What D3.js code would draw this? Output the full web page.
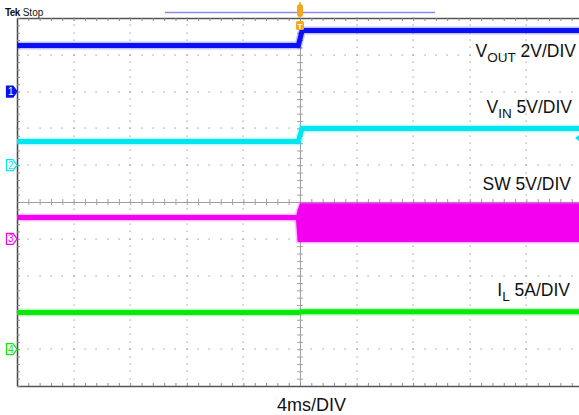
<!DOCTYPE html>
<html><head><meta charset="utf-8">
<script src="https://cdn.jsdelivr.net/npm/d3@7"></script>
<style>html,body{margin:0;padding:0;background:#fff;overflow:hidden}svg{display:block}</style>
</head><body>
<svg id="c" width="579" height="415"></svg>
<script>
// ---- data (time in ms, values in physical units) ----
const channelNames = ["VOUT", "VIN", "SW", "IL"];
const unitsPerDiv = [2, 5, 5, 5];          // V/div, V/div, V/div, A/div
const groundDiv = [3, 1, -1, -4];           // channel ground marker position (divisions)
const channelColors = ["#0a10f2", "#00e6f0", "#f400f0", "#0ae80a"];

const traceTime = [-20, -0.12, 0.15, 20];
const voutValues = [2.5, 2.5, 3.32, 3.32];
const vinValues = [3.22, 3.22, 5.0, 5.0];
const ilValues = [5.0, 5.0, 5.08, 5.08];

const swTime = [-20, -0.12, 0.0, 0.12, 20];
const swHigh = [2.9, 2.9, 3.8, 4.5, 4.5];
const swLow = [2.9, 2.9, -0.1, -0.1, -0.1];

const labelMain = ["V", "V", "SW 5V/DIV", "I"];
const labelSub = ["OUT", "IN", "", "L"];
const labelRest = [" 2V/DIV", " 5V/DIV", "", " 5A/DIV"];
const timeLabel = "4ms/DIV";
const timeDomain = [-20, 20];
const divDomain = [-5, 5];

// ---- layout ----
const svg = d3.select("#c");
const L = 17, R = 583, T = 18, B = 386;
const x = d3.scaleLinear().domain(timeDomain).range([L, R]);
const yDiv = d3.scaleLinear().domain(divDomain).range([B, T]);
const chY = i => v => yDiv(v / unitsPerDiv[i] + groundDiv[i]);

// graticule dots
const g = svg.append("g");
const majorX = d3.range(-16, 20, 4);
const majorY = d3.range(-4, 5, 1).filter(d => d !== 0);
const minorX = d3.range(-20, 20.001, 0.8);
const minorY = d3.range(-5, 5.001, 0.2);
majorX.filter(d => d !== 0).forEach(t => {
  minorY.forEach(d => g.append("rect").attr("x", Math.round(x(t)) - 0.5).attr("y", Math.round(yDiv(d)) - 0.5)
    .attr("width", 1.2).attr("height", 1.2).attr("fill", "#999"));
});
majorY.forEach(d => {
  minorX.forEach(t => g.append("rect").attr("x", Math.round(x(t)) - 0.5).attr("y", Math.round(yDiv(d)) - 0.5)
    .attr("width", 1.2).attr("height", 1.2).attr("fill", "#999"));
});

// center lines with ticks
const cx1 = svg.append("g").attr("transform", `translate(0,${yDiv(0)})`)
  .call(d3.axisBottom(x).tickValues(minorX).tickSize(3).tickSizeOuter(0).tickFormat(""));
const cx2 = svg.append("g").attr("transform", `translate(0,${yDiv(0)})`)
  .call(d3.axisTop(x).tickValues(minorX).tickSize(3).tickSizeOuter(0).tickFormat(""));
const cy1 = svg.append("g").attr("transform", `translate(${x(0)},0)`)
  .call(d3.axisLeft(yDiv).tickValues(minorY).tickSize(3).tickSizeOuter(0).tickFormat(""));
const cy2 = svg.append("g").attr("transform", `translate(${x(0)},0)`)
  .call(d3.axisRight(yDiv).tickValues(minorY).tickSize(3).tickSizeOuter(0).tickFormat(""));
[cx1, cx2, cy1, cy2].forEach(a => { a.selectAll("path,line").attr("stroke", "#a0a0a0"); });

// border axes
const bTop = svg.append("g").attr("transform", `translate(0,${T})`)
  .call(d3.axisBottom(x).tickValues(minorX).tickSize(3).tickSizeOuter(0).tickFormat(""));
const bBot = svg.append("g").attr("transform", `translate(0,${B})`)
  .call(d3.axisTop(x).tickValues(minorX).tickSize(3).tickSizeOuter(0).tickFormat(""));
const bLeft = svg.append("g").attr("transform", `translate(${L},0)`)
  .call(d3.axisRight(yDiv).tickValues(minorY).tickSize(3).tickSizeOuter(0).tickFormat(""));
[bTop, bBot].forEach(a => { a.select("path").attr("stroke", "#555").attr("stroke-width", 1.3); a.selectAll("line").attr("stroke", "#888"); });
bLeft.select("path").attr("stroke", "#444").attr("stroke-width", 1.5);
bLeft.selectAll("line").attr("stroke", "#888");

// traces
const traces = [voutValues, vinValues, null, ilValues];
traces.forEach((vals, i) => {
  if (!vals) return;
  const pts = traceTime.map((t, k) => [t, vals[k]]);
  const line = d3.line().x(d => x(d[0])).y(d => chY(i)(d[1]));
  svg.append("path").attr("d", line(pts)).attr("fill", "none")
    .attr("stroke", channelColors[i]).attr("stroke-width", 8).attr("stroke-opacity", 0.25);
  svg.append("path").attr("d", line(pts)).attr("fill", "none")
    .attr("stroke", channelColors[i]).attr("stroke-width", 5);
});
// SW band
const swPts = swTime.map((t, k) => ({t, hi: swHigh[k], lo: swLow[k]}));
const swArea = d3.area().x(d => x(d.t)).y0(d => chY(2)(d.lo)).y1(d => chY(2)(d.hi));
svg.append("path").attr("d", swArea(swPts)).attr("fill", channelColors[2])
  .attr("stroke", channelColors[2]).attr("stroke-width", 8).attr("stroke-opacity", 0.25);
svg.append("path").attr("d", swArea(swPts)).attr("fill", channelColors[2])
  .attr("stroke", channelColors[2]).attr("stroke-width", 5);

// channel ground markers
groundDiv.forEach((gd, i) => {
  const yy = yDiv(gd);
  const filled = i === 0;
  const shape = `M6.5,${yy - 5.5} L13,${yy - 5.5} L17,${yy} L13,${yy + 5.5} L6.5,${yy + 5.5} Z`;
  svg.append("path").attr("d", shape)
    .attr("fill", filled ? channelColors[i] : "#fff")
    .attr("stroke", channelColors[i]).attr("stroke-width", 1.2);
  svg.append("text").attr("x", 10.8).attr("y", yy + 3.6).attr("text-anchor", "middle")
    .attr("font-family", "Liberation Sans, Arial, sans-serif").attr("font-size", 10)
    .attr("fill", filled ? "#fff" : channelColors[i]).text(i + 1);
});

// trigger level marker on right (VIN)
{
  const yy = chY(1)(vinValues[2]) + 9.5;
  svg.append("path").attr("d", `M575,${yy} L579,${yy - 3} L579,${yy + 3} Z`).attr("fill", channelColors[1]);
}

// header
const hdr = svg.append("text").attr("x", 5).attr("y", 15.5)
  .attr("font-family", "Liberation Sans, Arial, sans-serif").attr("font-size", 10).attr("fill", "#111");
hdr.append("tspan").attr("font-weight", "bold").attr("letter-spacing", -0.6).text("Tek");
hdr.append("tspan").attr("dx", 3).text("Stop");
svg.append("line").attr("x1", 165).attr("x2", 435).attr("y1", 12.5).attr("y2", 12.5)
  .attr("stroke", "#8a8ae6").attr("stroke-width", 1.5);
// trigger position markers
svg.append("rect").attr("x", x(0) - 3).attr("y", 4).attr("width", 6).attr("height", 13)
  .attr("rx", 3).attr("fill", "#f5a623");
svg.append("line").attr("x1", x(0)).attr("x2", x(0)).attr("y1", 2).attr("y2", 18)
  .attr("stroke", "#f5a623").attr("stroke-width", 1.5);
svg.append("rect").attr("x", x(0) - 4).attr("y", 21).attr("width", 8).attr("height", 9)
  .attr("rx", 1.5).attr("fill", "#f5a623");
svg.append("text").attr("x", x(0)).attr("y", 28.5).attr("text-anchor", "middle")
  .attr("font-family", "Liberation Sans, Arial, sans-serif").attr("font-size", 8)
  .attr("font-weight", "bold").attr("fill", "#fff").text("T");

// channel labels
const labelX = [576, 572, 571, 570];
const labelY = [57, 113, 189.5, 296];
const fam = "Liberation Sans, Arial, Helvetica, sans-serif";
channelNames.forEach((n, i) => {
  const t = svg.append("text").attr("x", labelX[i]).attr("y", labelY[i])
    .attr("text-anchor", "end").attr("font-family", fam).attr("font-size", 17.5).attr("fill", "#111");
  t.append("tspan").text(labelMain[i]);
  if (labelSub[i]) {
    t.append("tspan").attr("font-size", 13.5).attr("dy", 5).text(labelSub[i]);
    t.append("tspan").attr("dy", -5).text(labelRest[i]);
  }
});
svg.append("text").attr("x", 311.5).attr("y", 411).attr("text-anchor", "middle")
  .attr("font-family", fam).attr("font-size", 18).attr("fill", "#111").text(timeLabel);
</script>
</body></html>
